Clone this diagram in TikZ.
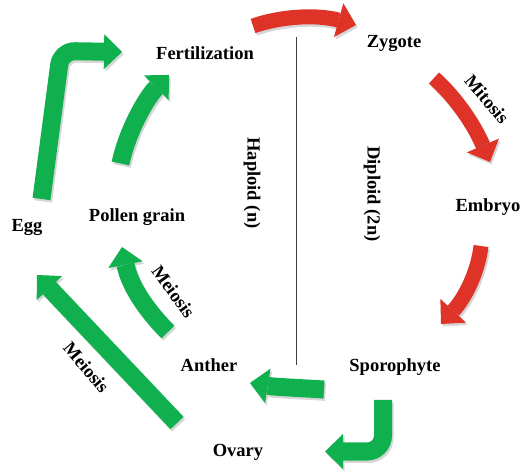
\documentclass[tikz,border=0pt]{standalone}
\usepackage{fontspec}
\setmainfont{Liberation Serif}
\usetikzlibrary{arrows.meta}
\definecolor{cycred}{RGB}{223,51,40}
\definecolor{cycgreen}{RGB}{16,176,79}
\tikzset{
  lbl/.style={font=\fontsize{18.5}{20}\selectfont\bfseries, inner sep=0pt},
  flow/.style={line width=#1, -{Triangle[width=35pt,length=18pt,line width=0pt]}},
  redflow/.style={flow=15pt, draw=cycred},
  greenflow/.style={flow=18pt, draw=cycgreen},
  flowshadow/.style={draw=black!16, transform canvas={shift={(1.6pt,-2.4pt)}}},
  divider/.style={draw=black!75, line width=0.8pt},
}
% block arrow with a soft drop shadow underneath
\newcommand\flowarrow[2]{%
  \draw[#1,flowshadow] #2;
  \draw[#1] #2;}
\begin{document}
\begin{tikzpicture}[x=1pt,y=1pt]
\useasboundingbox (0,0) rectangle (526,470);

% stage labels
\node[lbl, anchor=base] (fert)   at (205,410) {Fertilization};
\node[lbl, anchor=base] (zygote) at (394,422) {Zygote};
\node[lbl, anchor=base] (embryo) at (488,258) {Embryo};
\node[lbl, anchor=base] (sporo)  at (395,98)  {Sporophyte};
\node[lbl, anchor=base] (anther) at (209,98)  {Anther};
\node[lbl, anchor=base] (ovary)  at (238,13)  {Ovary};
\node[lbl, anchor=base] (egg)    at (27,238)  {Egg};
\node[lbl, anchor=base] (pollen) at (137,248) {Pollen grain};

% process labels
\node[lbl, rotate=-50] (mitosis)  at (487,371)     {Mitosis};
\node[lbl, rotate=-54] (meiosisA) at (173.5,178.5) {Meiosis};
\node[lbl, rotate=-50] (meiosisB) at (86.5,102.5)  {Meiosis};
\node[lbl, rotate=-90] (haploid)  at (252,287)     {Haploid (n)};
\node[lbl, rotate=-90] (diploid)  at (372,276)     {Diploid (2n)};

% haploid / diploid divider
\coordinate (divTop) at (296,433);
\coordinate (divBot) at (296,105);
\draw[divider] (divTop) -- (divBot);

% arrow end points
\coordinate (t1) at (253,444);   \coordinate (h1) at (356,445);
\coordinate (t2) at (434,392);   \coordinate (h2) at (490,308);
\coordinate (t3) at (481,224);   \coordinate (h3) at (441,146);
\coordinate (t4) at (324,80.5);  \coordinate (h4) at (250,87);
\coordinate (t5) at (383,70);    \coordinate (c5) at (383,18.5); \coordinate (h5) at (325,18.5);
\coordinate (t6) at (177,47);    \coordinate (h6) at (37,195);
\coordinate (t7) at (168,138);   \coordinate (h7) at (122,223);
\coordinate (t8) at (120.5,306.5); \coordinate (h8) at (169,395);
\coordinate (t9) at (41.5,271);  \coordinate (c9) at (61,419);   \coordinate (h9) at (122,418);

% diploid phase
\flowarrow{redflow}{(t1) .. controls (285,455) and (320,455) .. (h1)}
\flowarrow{redflow}{(t2) .. controls (452,376) and (472,350) .. (h2)}
\flowarrow{redflow}{(t3) .. controls (478,198) and (465,172) .. (h3)}

% haploid phase
\flowarrow{greenflow}{(t4) .. controls (300,82) and (275,83) .. (h4)}
\flowarrow{greenflow,rounded corners=16pt}{(t5) -- (c5) -- (h5)}
\flowarrow{greenflow}{(t6) -- (h6)}
\flowarrow{greenflow}{(t7) .. controls (150,156) and (130,182) .. (h7)}
\flowarrow{greenflow}{(t8) .. controls (127,338) and (146,372) .. (h8)}
\flowarrow{greenflow,rounded corners=14pt}{(t9) -- (c9) -- (h9)}
\end{tikzpicture}
\end{document}
